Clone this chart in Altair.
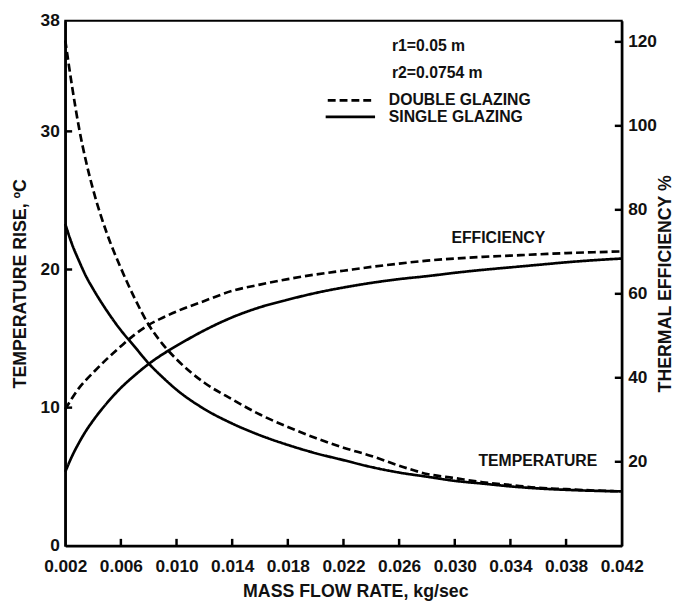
import altair as alt
import pandas as pd

# ---------------- data ----------------
mass_flow = [0.002, 0.0025, 0.003, 0.0035, 0.004, 0.005, 0.006, 0.007, 0.008, 0.009, 0.010,
             0.012, 0.014, 0.016, 0.018, 0.020, 0.022, 0.024, 0.026, 0.028,
             0.030, 0.032, 0.034, 0.036, 0.038, 0.040, 0.042]

temp_double = [36.6, 33.2, 30.2, 27.8, 25.8, 22.6, 20.1, 17.9, 16.0, 14.6, 13.5,
               11.8, 10.6, 9.5, 8.6, 7.8, 7.1, 6.5, 5.8, 5.2,
               4.9, 4.6, 4.4, 4.2, 4.1, 4.0, 3.94]
temp_single = [23.3, 21.8, 20.6, 19.5, 18.6, 17.0, 15.6, 14.4, 13.2, 12.2, 11.3,
               9.9, 8.85, 8.0, 7.3, 6.7, 6.2, 5.7, 5.3, 5.0,
               4.7, 4.5, 4.3, 4.15, 4.05, 3.98, 3.94]
eff_double = [32.5, 35.2, 37.6, 39.5, 41.2, 44.5, 47.5, 50.3, 52.6, 54.3, 55.8,
              58.3, 60.7, 62.2, 63.5, 64.6, 65.5, 66.4, 67.2, 67.9,
              68.4, 68.8, 69.1, 69.4, 69.7, 69.9, 70.1]
eff_single = [17.6, 21.4, 24.6, 27.4, 29.8, 34.0, 37.6, 40.6, 43.3, 45.6, 47.6,
              51.3, 54.4, 56.8, 58.6, 60.2, 61.5, 62.6, 63.5, 64.2,
              65.0, 65.7, 66.3, 66.9, 67.5, 68.0, 68.4]

x_ticks = [0.002, 0.006, 0.010, 0.014, 0.018, 0.022, 0.026, 0.030, 0.034, 0.038, 0.042]
left_ticks = [0, 10, 20, 30, 38]
right_ticks = [20, 40, 60, 80, 100, 120]

note_text = ["r1=0.05 m", "r2=0.0754 m", "DOUBLE GLAZING", "SINGLE GLAZING"]
note_x = [0.02548, 0.02548, 0.02526, 0.02526]
note_y = [36.15, 34.2, 32.25, 31.05]

curve_text = ["EFFICIENCY", "TEMPERATURE"]
curve_x = [0.03313, 0.03597]
curve_y = [22.26, 6.16]

legend_glazing = ["DOUBLE", "SINGLE"]
legend_x1 = [0.02087, 0.02072]
legend_x2 = [0.02427, 0.02427]
legend_y = [32.25, 31.05]

# ---------------- build tables ----------------
rows = []
for i, m in enumerate(mass_flow):
    rows.append(dict(m=m, glazing="DOUBLE", temp=temp_double[i], eff=eff_double[i]))
    rows.append(dict(m=m, glazing="SINGLE", temp=temp_single[i], eff=eff_single[i]))
df = pd.DataFrame(rows)

notes = pd.DataFrame(dict(m=note_x, temp=note_y, t=note_text))
curve_labels = pd.DataFrame(dict(m=curve_x, temp=curve_y, t=curve_text))
legend_df = pd.DataFrame(dict(glazing=legend_glazing, m=legend_x1, m2=legend_x2, temp=legend_y))
xt_df = pd.DataFrame(dict(m=x_ticks[1:-1]))
lt_df = pd.DataFrame(dict(temp=left_ticks[1:-1]))
rt_df = pd.DataFrame(dict(eff=right_ticks))

W, H = 564, 532
FONT = "Liberation Sans"
INK = "#111111"
TICK_FS = 17.5
TITLE_FS = 18

x_scale = alt.Scale(domain=[0.002, 0.042], nice=False, zero=False)
t_scale = alt.Scale(domain=[0, 38], nice=False)
e_scale = alt.Scale(domain=[0, 125], nice=False)

dash = alt.StrokeDash(
    "glazing:N",
    scale=alt.Scale(domain=["DOUBLE", "SINGLE"], range=[[8, 4], [1, 0]]),
    legend=None,
)

x_axis = alt.Axis(values=x_ticks, format=".3f", title="MASS FLOW RATE, kg/sec",
                  ticks=False, labelPadding=12, titlePadding=8, grid=False,
                  domainColor="black", domainWidth=2.5, labelFontSize=TICK_FS,
                  titleFontSize=TITLE_FS, labelFlush=False, titleX=W / 2 + 12)
left_axis = alt.Axis(values=left_ticks, format="d", title="TEMPERATURE RISE, \u00baC",
                     ticks=False, labelPadding=6, titlePadding=11, grid=False,
                     domainColor="black", domainWidth=2.5, labelFontSize=TICK_FS,
                     titleFontSize=TITLE_FS, orient="left")
right_axis = alt.Axis(values=right_ticks, format="d", title="THERMAL EFFICIENCY %",
                      ticks=False, labelPadding=6, titlePadding=0, grid=False,
                      domainColor="black", domainWidth=2.5, labelFontSize=TICK_FS,
                      titleFontSize=TITLE_FS, orient="right", titleAngle=270,
                      titleBaseline="top")

X = alt.X("m:Q", scale=x_scale, axis=x_axis)
YT = alt.Y("temp:Q", scale=t_scale, axis=left_axis)
YE = alt.Y("eff:Q", scale=e_scale, axis=right_axis)

temp_lines = alt.Chart(df).mark_line(color="black", strokeWidth=2.7, interpolate="monotone").encode(
    x=X, y=YT, strokeDash=dash, detail="glazing:N",
)

left_tick_marks = alt.Chart(lt_df).mark_rule(color="black", strokeWidth=2.5).encode(
    y=YT, x=alt.value(0), x2=alt.value(7),
)
bottom_tick_marks = alt.Chart(xt_df).mark_rule(color="black", strokeWidth=2.5).encode(
    x=X, y=alt.value(H - 7), y2=alt.value(H),
)

note_marks = alt.Chart(notes).mark_text(align="left", baseline="middle", font=FONT,
                                        fontWeight="bold", fontSize=16, color=INK).encode(
    x=X, y=YT, text="t:N",
)
curve_label_marks = alt.Chart(curve_labels).mark_text(align="center", baseline="middle", font=FONT,
                                                      fontWeight="bold", fontSize=16, color=INK).encode(
    x=X, y=YT, text="t:N",
)
legend_marks = alt.Chart(legend_df).mark_rule(color="black", strokeWidth=2.8).encode(
    x=X, x2="m2:Q", y=YT, strokeDash=dash,
)

eff_lines = alt.Chart(df).mark_line(color="black", strokeWidth=2.7, interpolate="monotone").encode(
    x=X, y=YE, strokeDash=dash, detail="glazing:N",
)
right_tick_marks = alt.Chart(rt_df).mark_rule(color="black", strokeWidth=2.5).encode(
    y=YE, x=alt.value(W - 7), x2=alt.value(W),
)

left_layer = alt.layer(temp_lines, left_tick_marks, bottom_tick_marks, note_marks,
                       curve_label_marks, legend_marks)
right_layer = alt.layer(eff_lines, right_tick_marks)

chart = (
    alt.layer(left_layer, right_layer)
    .resolve_scale(y="independent")
    .properties(width=W, height=H, padding={"left": 3, "top": 0, "right": 0, "bottom": 0})
    .configure_view(stroke="black", strokeWidth=2)
    .configure_axis(labelFont=FONT, titleFont=FONT, labelFontWeight="bold",
                    titleFontWeight="bold", labelColor=INK, titleColor=INK)
)

chart.save("out.html", embed_options={"renderer": "svg", "actions": False})
